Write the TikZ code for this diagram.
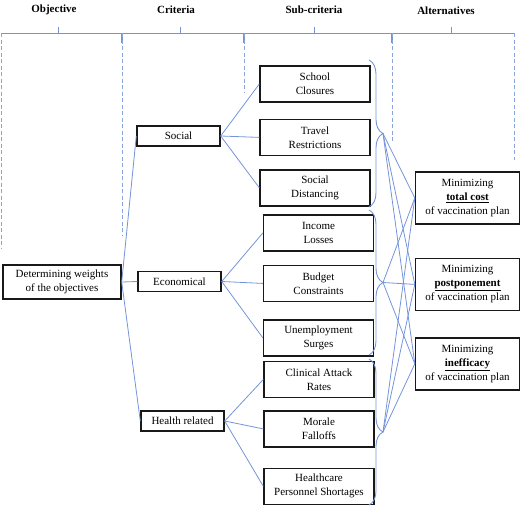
\documentclass[tikz,border=0pt]{standalone}
\usepackage{fontspec}
\setmainfont{Liberation Serif}
\usepackage{xcolor}
\usepackage{tikz}
\usetikzlibrary{positioning, calc, decorations.pathreplacing}
\definecolor{linkblue}{RGB}{116,148,218}

\begin{document}
\begin{tikzpicture}[
    x=1pt, y=-1pt,
    font=\fontsize{11}{14}\selectfont,
    head/.style={font=\fontsize{11}{14}\selectfont\bfseries},
    box/.style={rectangle, draw=black!90, line width=1.4pt, align=center, inner sep=0pt},
    crit/.style={box, minimum width=83pt, minimum height=20pt},
    subc/.style={box, minimum width=110pt, minimum height=36pt},
    alt/.style={box, minimum width=104pt, minimum height=52pt},
    link/.style={draw=linkblue, line width=0.8pt},
    guide/.style={draw=linkblue!85, line width=0.9pt, dash pattern=on 4pt off 2.5pt},
    grp/.style={draw=linkblue, line width=0.9pt, decorate, decoration={brace, amplitude=14pt}}
]
    \useasboundingbox (0,0) rectangle (520,506);

    % Level headers
    \node[head] (hObj) at (54,10) {Objective};
    \node[head] (hCrit) at (176,10) {Criteria};
    \node[head] (hSub) at (314,10) {Sub-criteria};
    \node[head] (hAlt) at (446,11) {Alternatives};

    % Header bar and guides
    \draw[link] (1,33) -- (514,33);
    \foreach \x in {58,180,314,451} \draw[link] (\x,27) -- (\x,33);
    \foreach \x in {122,244,392} \draw[link, line width=2pt] (\x,33) -- (\x,43);
    \foreach \x/\y in {1/249, 122/236, 244/93, 392/142, 514/160} \draw[guide] (\x,33) -- (\x,\y);

    % Objective and criteria
    \node[box, minimum width=118pt, minimum height=34pt] (obj) at (62,282) {Determining weights\\of the objectives};
    \node[crit] (social) at (178.5,136) {Social};
    \node[crit] (econ) at (179.5,281.5) {Economical};
    \node[crit] (health) at (182.5,421) {Health related};

    % Sub-criteria
    \node[subc] (school) at (315,84) {School\\Closures};
    \node[subc, below=16pt of school] (travel) {Travel\\Restrictions};
    \node[subc, below=13pt of travel] (sdist) {Social\\Distancing};
    \node[subc] (income) at (318.5,233) {Income\\Losses};
    \node[subc, below=13pt of income] (budget) {Budget\\Constraints};
    \node[subc, below=17pt of budget] (unemp) {Unemployment\\Surges};
    \node[subc] (clinical) at (319,379.5) {Clinical Attack\\Rates};
    \node[subc, below=12pt of clinical] (morale) {Morale\\Falloffs};
    \node[subc, below=20pt of morale] (staff) {Healthcare\\Personnel Shortages};

    % Alternatives
    \node[alt] (cost) at (467.5,198) {Minimizing\\\textbf{\underline{total cost}}\\of vaccination plan};
    \node[alt, below=33pt of cost] (delay) {Minimizing\\\textbf{\underline{postponement}}\\of vaccination plan};
    \node[alt, below=26pt of delay] (ineff) {Minimizing\\\textbf{\underline{inefficacy}}\\of vaccination plan};

    % Links between levels
    \foreach \c in {social,econ,health} \draw[link] (obj.east) -- (\c.west);
    \foreach \s in {school,travel,sdist} \draw[link] (social.east) -- (\s.west);
    \foreach \s in {income,budget,unemp} \draw[link] (econ.east) -- (\s.west);
    \foreach \s in {clinical,morale,staff} \draw[link] (health.east) -- (\s.west);

    % Group braces
    \draw[grp] (369,60) -- (369,207);
    \draw[grp] (369,210) -- (369,355);
    \draw[grp] (369,359) -- (369,505);
    \coordinate (socTip) at (383,133.5);
    \coordinate (ecoTip) at (383,282.5);
    \coordinate (hltTip) at (383,432);

    \foreach \t in {socTip,ecoTip,hltTip}
        \foreach \a in {cost,delay,ineff}
            \draw[link] (\t) -- (\a.west);
\end{tikzpicture}
\end{document}
